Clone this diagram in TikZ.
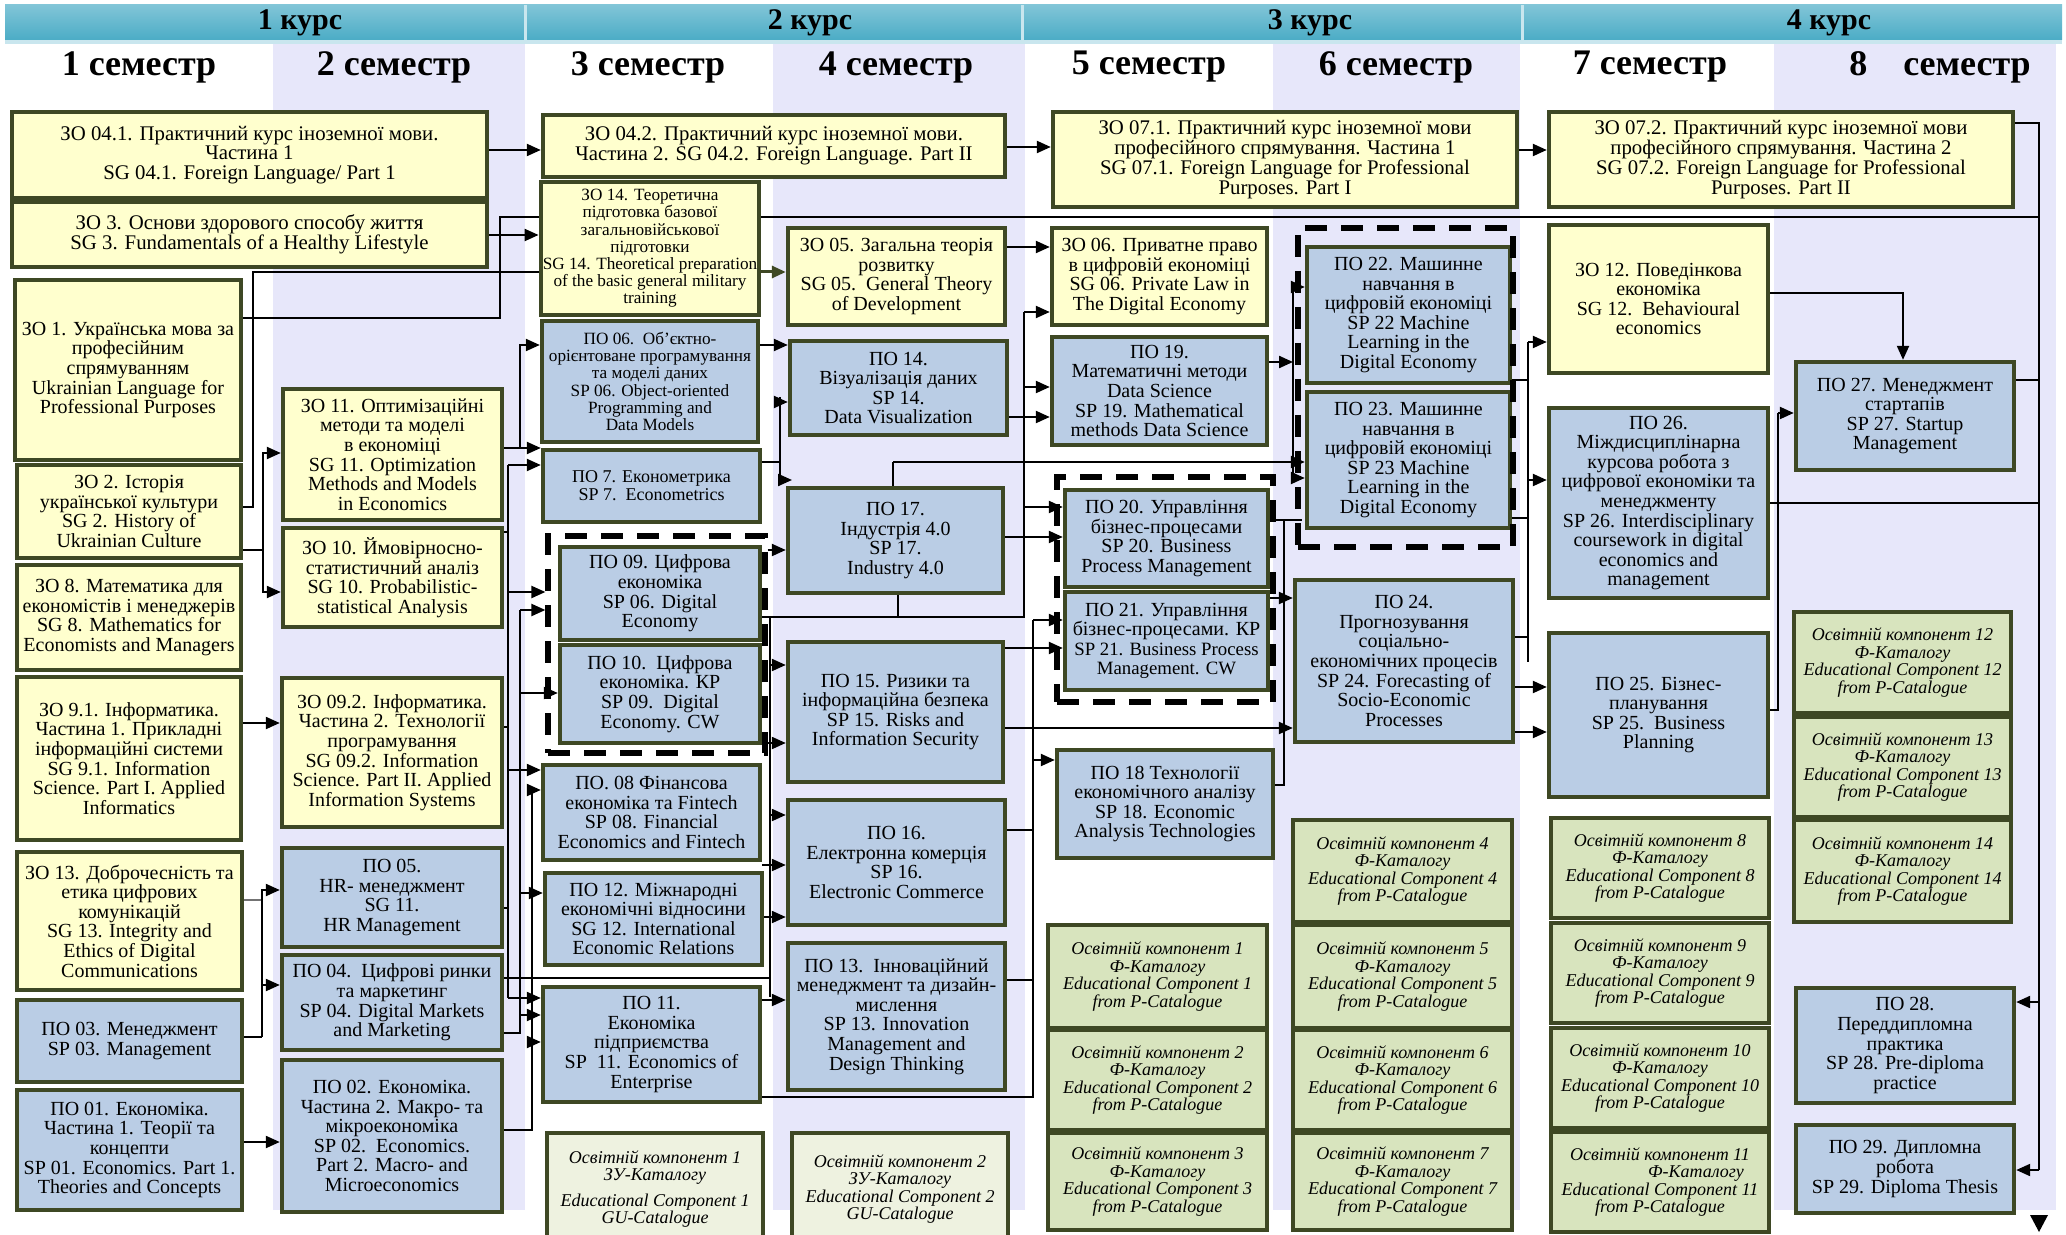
\documentclass[tikz,border=0pt]{standalone}
\usepackage{fontspec}
\setmainfont{Liberation Serif}
\usetikzlibrary{arrows.meta,calc}
\definecolor{ylw}{RGB}{255,255,206}
\definecolor{blu}{RGB}{186,205,229}
\definecolor{grn}{RGB}{216,228,190}
\definecolor{gu}{RGB}{238,242,224}
\definecolor{lav}{RGB}{231,231,250}
\definecolor{teal}{RGB}{75,172,198}
\definecolor{brd}{RGB}{62,72,36}
\newcommand\fA{\fontsize{10}{9.8}\selectfont}
\newcommand\fW{\fontsize{10.4}{9.9}\selectfont}
\newcommand\fS{\fontsize{8.6}{8.6}\selectfont}
\newcommand\fI{\itshape\fontsize{9}{8.7}\selectfont}
\pgfdeclarelayer{bg}\pgfdeclarelayer{edges}\pgfsetlayers{bg,edges,main}
\tikzset{
 box/.style={draw=brd,line width=2.2pt,inner sep=1pt,align=center,font=\fA},
 yel/.style={box,fill=ylw},
 blu/.style={box,fill=blu},
 grn/.style={box,fill=grn,font=\fI},
 gu/.style={box,fill=gu,font=\fI},
 grp/.style={draw=black,line width=2.6pt,dash pattern=on 11pt off 7pt,inner sep=0pt},
 ln/.style={line width=1.1pt},
 arr/.style={line width=1.1pt,-{Triangle[length=7pt,width=6pt]}},
}
\newcommand\bx[7]{\node[#6,minimum width=(#4-#2)*0.5pt,minimum height=(#5-#3)*0.5pt] (#1) at ({(#2+#4)/2},{(#3+#5)/2}) {#7};}
\begin{document}
\begin{tikzpicture}[x=0.5pt,y=-0.5pt]
\useasboundingbox (0,0) rectangle (2066,1235);
\begin{pgfonlayer}{bg}
\fill[white] (0,0) rectangle (2066,1235);
\foreach \a/\b in {273/525,773/1025,1273/1520,1774/2056}{\fill[lav] (\a,42) rectangle (\b,1210);}
\fill[teal!30] (5,38) rectangle (2062,44);
\shade[top color=teal!70,bottom color=teal] (5,5) rectangle (2062,40);
\foreach \a in {525,1022,1522}{\draw[white!70!teal,line width=1.5pt] (\a,5) -- (\a,40);}
\end{pgfonlayer}
\tikzset{kurs/.style={font=\fontsize{15}{15}\selectfont\bfseries},sem/.style={font=\fontsize{18}{18}\selectfont\bfseries}}
\node[kurs] (k1) at (300,23) {1 курс};
\node[kurs] (k2) at (810,23) {2 курс};
\node[kurs] (k3) at (1310,23) {3 курс};
\node[kurs] (k4) at (1829,23) {4 курс};
\node[sem] (s1) at (139,67) {1 семестр};
\node[sem] (s2) at (394,67) {2 семестр};
\node[sem] (s3) at (648,67) {3 семестр};
\node[sem] (s4) at (896,67) {4 семестр};
\node[sem] (s5) at (1149,67) {5 семестр};
\node[sem] (s6) at (1396,67) {6 семестр};
\node[sem] (s7) at (1650,67) {7 семестр};
\node[sem] (s8) at (1940,67) {8\quad семестр};
% semester 1
\bx{zo41}{12}{112}{487}{198}{yel,font=\fW}{ЗО 04.1. Практичний курс іноземної мови.\\ Частина 1\\ SG 04.1. Foreign Language/ Part 1}
\bx{zo3}{12}{202}{487}{267}{yel,font=\fW}{ЗО 3. Основи здорового способу життя\\ SG 3. Fundamentals of a Healthy Lifestyle}
\bx{zo1}{15}{280}{241}{460}{yel}{ЗО 1. Українська мова за\\ професійним\\ спрямуванням\\ Ukrainian Language for\\ Professional Purposes}
\bx{zo2}{17}{465}{241}{558}{yel}{ЗО 2. Історія\\ української культури\\ SG 2. History of\\ Ukrainian Culture}
\bx{zo8}{17}{565}{241}{670}{yel}{ЗО 8. Математика для\\ економістів і менеджерів\\ SG 8. Mathematics for\\ Economists and Managers}
\bx{zo91}{17}{677}{241}{840}{yel}{ЗО 9.1. Інформатика.\\ Частина 1. Прикладні\\ інформаційні системи\\ SG 9.1. Information\\ Science. Part I. Applied\\ Informatics}
\bx{zo13}{17}{852}{242}{990}{yel}{ЗО 13. Доброчесність та\\ етика цифрових\\ комунікацій\\ SG 13. Integrity and\\ Ethics of Digital\\ Communications}
\bx{po03}{17}{1000}{242}{1082}{blu}{ПО 03. Менеджмент\\ SP 03. Management}
\bx{po01}{17}{1090}{242}{1210}{blu}{ПО 01. Економіка.\\ Частина 1. Теорії та\\ концепти\\ SP 01. Economics. Part 1.\\ Theories and Concepts}
% semester 2
\bx{zo11}{283}{389}{502}{520}{yel}{ЗО 11. Оптимізаційні\\ методи та моделі\\ в економіці\\ SG 11. Optimization\\ Methods and Models\\ in Economics}
\bx{zo10}{283}{528}{502}{627}{yel}{ЗО 10. Ймовірносно-\\ статистичний аналіз\\ SG 10. Probabilistic-\\ statistical Analysis}
\bx{zo92}{282}{678}{502}{827}{yel}{ЗО 09.2. Інформатика.\\ Частина 2. Технології\\ програмування\\ SG 09.2. Information\\ Science. Part II. Applied\\ Information Systems}
\bx{po05}{282}{848}{502}{947}{blu}{ПО 05.\\ HR- менеджмент\\ SG 11.\\ HR Management}
\bx{po04}{282}{955}{502}{1050}{blu}{ПО 04.\ \ Цифрові ринки\\ та маркетинг\\ SP 04. Digital Markets\\ and Marketing}
\bx{po02}{282}{1060}{502}{1212}{blu}{ПО 02. Економіка.\\ Частина 2. Макро- та\\ мікроекономіка\\ SP 02.\ \ Economics.\\ Part 2. Macro- and\\ Microeconomics}
% semester 3
\bx{zo42}{543}{115}{1005}{177}{yel,font=\fW}{ЗО 04.2. Практичний курс іноземної мови.\\ Частина 2. SG 04.2. Foreign Language. Part II}
\bx{zo14}{542}{182}{758}{315}{yel,font=\fS}{ЗО 14. Теоретична\\ підготовка базової\\ загальновійськової\\ підготовки\\ SG 14. Theoretical preparation\\ of the basic general military\\ training}
\bx{po06}{542}{321}{758}{442}{blu,font=\fS}{ПО 06.\ \ Об’єктно-\\ орієнтоване програмування\\ та моделі даних\\ SP 06. Object-oriented\\ Programming and\\ Data Models}
\bx{po7}{543}{450}{760}{522}{blu,font=\fontsize{9}{9}\selectfont}{ПО 7. Економетрика\\ SP 7.\ \ Econometrics}
\bx{po09}{560}{547}{760}{640}{blu}{ПО 09. Цифрова\\ економіка\\ SP 06. Digital\\ Economy}
\bx{po10}{560}{645}{760}{743}{blu}{ПО 10.\ \ Цифрова\\ економіка. КР\\ SP 09.\ \ Digital\\ Economy. CW}
\bx{po08}{543}{765}{760}{860}{blu}{ПО. 08 Фінансова\\ економіка та Fintech\\ SP 08. Financial\\ Economics and Fintech}
\bx{po12}{545}{873}{762}{965}{blu}{ПО 12. Міжнародні\\ економічні відносини\\ SG 12. International\\ Economic Relations}
\bx{po11}{543}{987}{760}{1102}{blu}{ПО 11.\\ Економіка\\ підприємства\\ SP\ \ 11. Economics of\\ Enterprise}
\bx{gu1}{547}{1133}{763}{1245}{gu}{Освітній компонент 1\\ ЗУ-Каталогу\\[4pt] Educational Component 1\\ GU-Catalogue}
% semester 4
\bx{zo05}{788}{228}{1005}{325}{yel}{ЗО 05. Загальна теорія\\ розвитку\\ SG 05.\ \ General Theory\\ of Development}
\bx{po14}{790}{341}{1007}{435}{blu}{ПО 14.\\ Візуалізація даних\\ SP 14.\\ Data Visualization}
\bx{po17}{788}{488}{1003}{593}{blu}{ПО 17.\\ Індустрія 4.0\\ SP 17.\\ Industry 4.0}
\bx{po15}{788}{642}{1003}{782}{blu}{ПО 15. Ризики та\\ інформаційна безпека\\ SP 15. Risks and\\ Information Security}
\bx{po16}{788}{800}{1005}{925}{blu}{ПО 16.\\ Електронна комерція\\ SP 16.\\ Electronic Commerce}
\bx{po13}{788}{943}{1005}{1090}{blu}{ПО 13.\ \ Інноваційний\\ менеджмент та дизайн-\\ мислення\\ SP 13. Innovation\\ Management and\\ Design Thinking}
\bx{gu2}{792}{1133}{1008}{1245}{gu}{Освітній компонент 2\\ ЗУ-Каталогу\\ Educational Component 2\\ GU-Catalogue}
% semester 5
\bx{zo71}{1053}{112}{1517}{207}{yel,font=\fW}{ЗО 07.1. Практичний курс іноземної мови\\ професійного спрямування. Частина 1\\ SG 07.1. Foreign Language for Professional\\ Purposes. Part I}
\bx{zo06}{1052}{228}{1267}{325}{yel}{ЗО 06. Приватне право\\ в цифровій економіці\\ SG 06. Private Law in\\ The Digital Economy}
\bx{po19}{1052}{337}{1267}{445}{blu}{ПО 19.\\ Математичні методи\\ Data Science\\ SP 19. Mathematical\\ methods Data Science}
\bx{po20}{1065}{490}{1268}{587}{blu}{ПО 20. Управління\\ бізнес-процесами\\ SP 20. Business\\ Process Management}
\bx{po21}{1065}{592}{1268}{690}{blu}{ПО 21. Управління\\ бізнес-процесами. КР\\ {\fontsize{9.4}{9.8}\selectfont SP 21. Business Process}\\ {\fontsize{9.4}{9.8}\selectfont Management. CW}}
\bx{po18}{1057}{750}{1273}{858}{blu}{ПО 18 Технології\\ економічного аналізу\\ SP 18. Economic\\ Analysis Technologies}
\bx{ok1}{1048}{925}{1267}{1028}{grn}{Освітній компонент 1\\ Ф-Каталогу\\ Educational Component 1\\ from P-Catalogue}
\bx{ok2}{1048}{1030}{1267}{1130}{grn}{Освітній компонент 2\\ Ф-Каталогу\\ Educational Component 2\\ from P-Catalogue}
\bx{ok3}{1048}{1133}{1267}{1230}{grn}{Освітній компонент 3\\ Ф-Каталогу\\ Educational Component 3\\ from P-Catalogue}
% semester 6
\bx{po22}{1307}{247}{1510}{383}{blu}{ПО 22. Машинне\\ навчання в\\ цифровій економіці\\ SP 22 Machine\\ Learning in the\\ Digital Economy}
\bx{po23}{1307}{392}{1510}{528}{blu}{ПО 23. Машинне\\ навчання в\\ цифровій економіці\\ SP 23 Machine\\ Learning in the\\ Digital Economy}
\bx{po24}{1295}{580}{1513}{742}{blu}{ПО 24.\\ Прогнозування\\ соціально-\\ економічних процесів\\ SP 24. Forecasting of\\ Socio-Economic\\ Processes}
\bx{ok4}{1293}{820}{1512}{922}{grn}{Освітній компонент 4\\ Ф-Каталогу\\ Educational Component 4\\ from P-Catalogue}
\bx{ok5}{1293}{925}{1512}{1028}{grn}{Освітній компонент 5\\ Ф-Каталогу\\ Educational Component 5\\ from P-Catalogue}
\bx{ok6}{1293}{1030}{1512}{1130}{grn}{Освітній компонент 6\\ Ф-Каталогу\\ Educational Component 6\\ from P-Catalogue}
\bx{ok7}{1293}{1133}{1512}{1230}{grn}{Освітній компонент 7\\ Ф-Каталогу\\ Educational Component 7\\ from P-Catalogue}
% semester 7
\bx{zo72}{1549}{112}{2013}{207}{yel,font=\fW}{ЗО 07.2. Практичний курс іноземної мови\\ професійного спрямування. Частина 2\\ SG 07.2. Foreign Language for Professional\\ Purposes. Part II}
\bx{zo12}{1549}{225}{1768}{373}{yel}{ЗО 12. Поведінкова\\ економіка\\ SG 12.\ \ Behavioural\\ economics}
\bx{po26}{1549}{408}{1768}{598}{blu}{ПО 26.\\ Міждисциплінарна\\ курсова робота з\\ цифрової економіки та\\ менеджменту\\ SP 26. Interdisciplinary\\ coursework in digital\\ economics and\\ management}
\bx{po25}{1549}{633}{1768}{797}{blu}{ПО 25. Бізнес-\\ планування\\ SP 25.\ \ Business\\ Planning}
\bx{ok8}{1551}{818}{1769}{918}{grn}{Освітній компонент 8\\ Ф-Каталогу\\ Educational Component 8\\ from P-Catalogue}
\bx{ok9}{1551}{923}{1769}{1023}{grn}{Освітній компонент 9\\ Ф-Каталогу\\ Educational Component 9\\ from P-Catalogue}
\bx{ok10}{1551}{1028}{1769}{1128}{grn}{Освітній компонент 10\\ Ф-Каталогу\\ Educational Component 10\\ from P-Catalogue}
\bx{ok11}{1551}{1132}{1769}{1232}{grn}{Освітній компонент 11\\ \hspace*{4em}Ф-Каталогу\\ Educational Component 11\\ from P-Catalogue}
% semester 8
\bx{po27}{1796}{362}{2014}{470}{blu}{ПО 27. Менеджмент\\ стартапів\\ SP 27. Startup\\ Management}
\bx{ok12}{1794}{612}{2011}{713}{grn}{Освітній компонент 12\\ Ф-Каталогу\\ Educational Component 12\\ from P-Catalogue}
\bx{ok13}{1794}{717}{2011}{817}{grn}{Освітній компонент 13\\ Ф-Каталогу\\ Educational Component 13\\ from P-Catalogue}
\bx{ok14}{1794}{820}{2011}{922}{grn}{Освітній компонент 14\\ Ф-Каталогу\\ Educational Component 14\\ from P-Catalogue}
\bx{po28}{1796}{988}{2014}{1103}{blu}{ПО 28.\\ Переддипломна\\ практика\\ SP 28. Pre-diploma\\ practice}
\bx{po29}{1796}{1125}{2014}{1213}{blu}{ПО 29. Дипломна\\ робота\\ SP 29. Diploma Thesis}
% dashed groups
\bx{g1}{548}{536}{765}{753}{grp}{}
\bx{g2}{1298}{228}{1513}{547}{grp}{}
\bx{g3}{1057}{477}{1273}{702}{grp}{}
% connectors
\begin{pgfonlayer}{edges}
% language chain and right-hand bus
\draw[arr] (zo41.east|-0,150) -- (zo42.west|-0,150);
\draw[arr] (zo42.east|-0,147) -- (zo71.west|-0,147);
\draw[arr] (zo71.east|-0,150) -- (zo72.west|-0,150);
\coordinate (R) at (2039,123);
\draw[ln] (zo72.east|-0,123) -- (R) -- (R|-0,1170);
\draw[arr] (R|-0,1170) -- (po29.east|-0,1170);
\draw[arr] (R|-0,1002) -- (po28.east|-0,1002);
\fill (2030,1215) -- (2048,1215) -- (2039,1232) -- cycle;
\draw[ln] (zo1.east|-0,318) -- (500,318) -- (500,217) -- (R|-0,217);
% semester 1 -> 2
\draw[arr] (zo3.east|-0,235) -- (zo14.west|-0,235);
\draw[ln] (zo2.east|-0,507) -- (253,507) -- (253,272) -- (zo14.west|-0,272);
\draw[ln] (zo2.east|-0,550) -- (263,550);
\draw[arr] (263,550) |- (zo11.west|-0,453);
\draw[arr] (263,550) |- (zo10.west|-0,592);
\draw[arr] (zo91.east|-0,723) -- (zo92.west|-0,723);
\draw[ln,black!55] (zo13.east|-0,900) -- (262,900);
\draw[ln] (po03.east|-0,1037) -- (262,1037);
\draw[arr] (262,1037) |- (po05.west|-0,890);
\draw[arr] (262,1037) |- (po04.west|-0,985);
\draw[arr] (po01.east|-0,1142) -- (po02.west|-0,1142);
% semester 2 -> 3
\draw[arr] (zo11.east|-0,448) -- (po7.west|-0,448);
\draw[arr] (520,448) |- (po06.west|-0,345);
\coordinate (B) at (508,465);
\draw[ln] (zo10.east|-0,532) -- (B|-0,532);
\draw[ln] (zo92.east|-0,727) -- (B|-0,727);
\draw[ln] (po05.east|-0,908) -- (B|-0,908);
\draw[ln] (B) -- (B|-0,998);
\draw[arr] (B) -- (po7.west|-0,465);
\draw[arr] (B|-0,592) -- (g1.west|-0,592);
\draw[arr] (B|-0,770) -- (po08.west|-0,770);
\draw[arr] (B|-0,998) -- (po11.west|-0,998);
\coordinate (C) at (520,610);
\draw[ln] (po04.east|-0,1033) -- (C|-0,1033) -- (C);
\draw[arr] (C) -- (g1.west|-0,610);
\draw[arr] (C|-0,693) -- (po10.west|-0,693);
\draw[arr] (C|-0,893) -- (po12.west|-0,893);
\draw[arr] (C|-0,1015) -- (po11.west|-0,1015);
\coordinate (D) at (532,790);
\draw[ln] (po02.east|-0,1130) -- (D|-0,1130) -- (D);
\draw[arr] (D) -- (po08.west|-0,790);
\draw[arr] (D|-0,1042) -- (po11.west|-0,1042);
% semester 3 -> 4
\draw[arr,brd,line width=1.5pt] (zo14.east|-0,272) -- (zo05.west|-0,272);
\draw[arr] (po06.east|-0,345) -- (po14.west|-0,345);
\coordinate (E) at (780,397);
\coordinate (Et) at (792,480);
\draw[ln] (po7.east|-0,462) -- (E|-0,462);
\draw[ln] (E) -- (E|-0,480);
\draw[arr] (E|-0,402) -- (po14.west|-0,402);
\draw[arr] (E|-0,480) -- (Et);
\draw[arr] (g1.east|-0,550) -- (po17.west|-0,550);
\coordinate (V5) at (1024,312);
\coordinate (F) at (770,617);
\draw[ln] (po09.east|-0,617) -- (V5|-0,617) -- (V5);
\draw[ln] (po17.south-|898,0) -- (898,617);
\draw[ln] (F) -- (F|-0,997);
\draw[arr] (F|-0,665) -- (po15.west|-0,665);
\draw[arr] (po10.east|-0,743) -- (po15.west|-0,743);
\draw[arr] (F|-0,815) -- (po16.west|-0,815);
\draw[arr] (po08.east|-0,865) -- (po16.west|-0,865);
\draw[arr] (po12.east|-0,917) -- (po16.west|-0,917);
\draw[ln] (po04.east|-0,978) -- (F|-0,978);
\draw[arr] (po11.east|-0,1000) -- (po13.west|-0,1000);
% semester 4 -> 5
\draw[arr] (zo05.east|-0,247) -- (zo06.west|-0,247);
\draw[arr] (V5) -- (zo06.west|-0,312);
\draw[arr] (V5|-0,387) -- (po19.west|-0,387);
\draw[arr] (V5|-0,507) -- (po20.west|-0,507);
\draw[arr] (po14.east|-0,417) -- (po19.west|-0,417);
\draw[arr] (po17.east|-0,537) -- (po20.west|-0,537);
\draw[arr] (po15.east|-0,648) -- (po21.west|-0,648);
\draw[arr] (po15.east|-0,728) -- (po24.west|-0,728);
\coordinate (V6) at (1033,620);
\draw[ln] (po16.east|-0,830) -- (V6|-0,830);
\draw[ln] (po13.east|-0,980) -- (V6|-0,980);
\draw[ln] (po11.east|-0,1097) -- (V6|-0,1097) -- (V6);
\draw[arr] (V6) -- (po21.west|-0,620);
\draw[arr] (V6|-0,760) -- (po18.west|-0,760);
% semester 5 -> 6
\draw[ln] (po17.north-|893,0) -- (893,462);
\draw[arr] (893,462) -- (po23.west|-0,462);
\coordinate (G) at (1293,287);
\draw[ln] (G) -- (G|-0,478);
\draw[arr] (G) -- (po22.west|-0,287);
\draw[arr] (G|-0,478) -- (po23.west|-0,478);
\draw[arr] (po19.east|-0,362) -- (G|-0,362);
\coordinate (H) at (1284,520);
\draw[ln] (po20.east|-0,520) -- (1302,520);
\draw[ln] (H) -- (H|-0,785) -- (po18.east|-0,785);
\draw[arr] (po21.east|-0,598) -- (po24.west|-0,598);
% semester 6 -> 7
\coordinate (K) at (1528,342);
\draw[ln] (K) -- (K|-0,662);
\draw[ln] (po22.east|-0,380) -- (K|-0,380);
\draw[ln] (po23.east|-0,518) -- (K|-0,518);
\draw[ln] (po24.east|-0,637) -- (K|-0,637);
\draw[arr] (K) -- (zo12.west|-0,342);
\draw[arr] (K|-0,480) -- (po26.west|-0,480);
\draw[arr] (po24.east|-0,687) -- (po25.west|-0,687);
\draw[arr] (po24.east|-0,732) -- (po25.west|-0,732);
% semester 7 -> 8
\draw[arr] (zo12.east|-0,293) -| (po27.north-|1903,0);
\draw[ln] (po25.east|-0,710) -- (1778,710) -- (1778,413);
\draw[arr] (1778,413) -- (po27.west|-0,413);
\draw[ln] (po26.east|-0,503) -- (R|-0,503);
\draw[ln] (po27.east|-0,380) -- (R|-0,380);
\end{pgfonlayer}
\end{tikzpicture}
\end{document}
